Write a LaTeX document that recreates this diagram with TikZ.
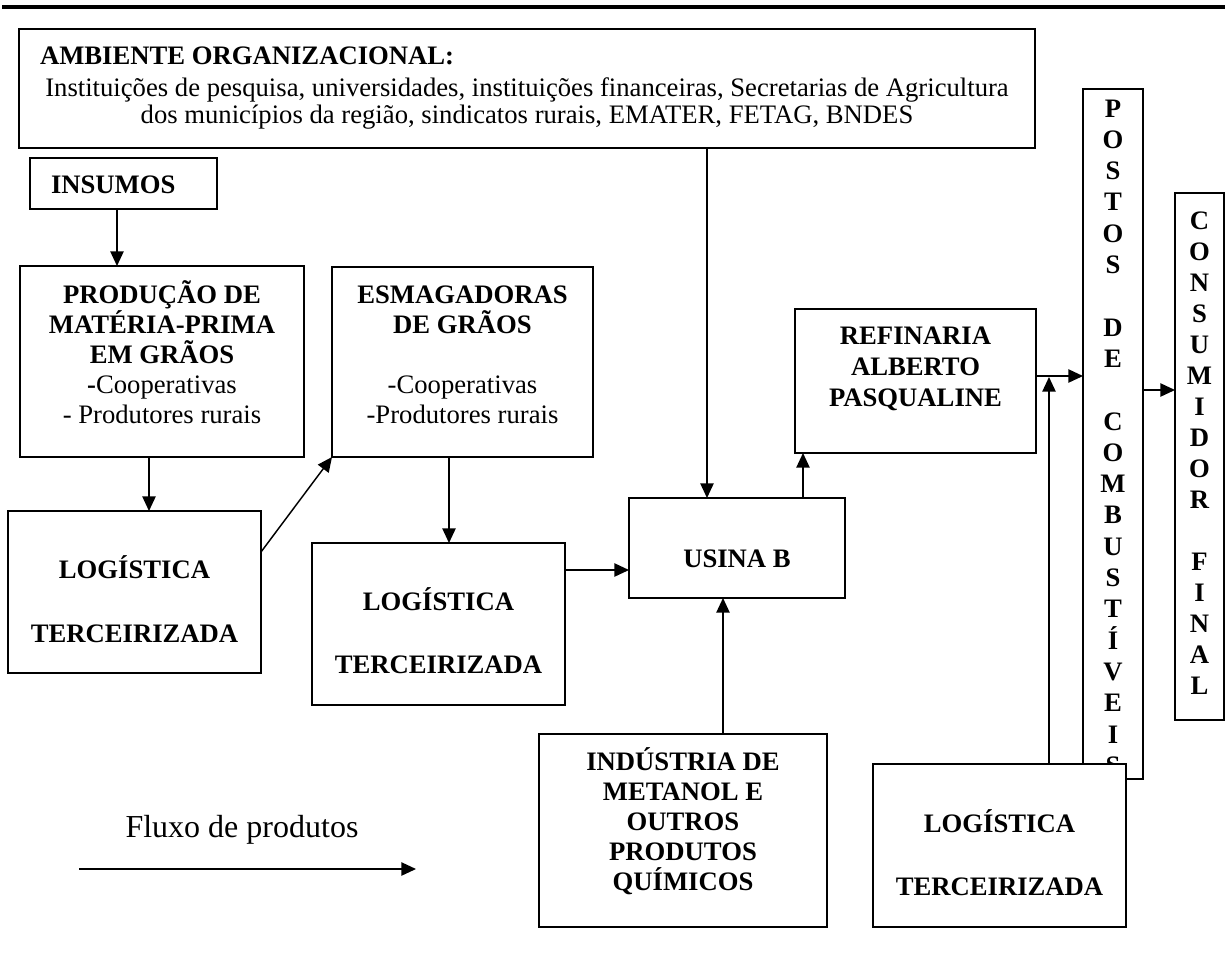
\documentclass[tikz,border=0pt]{standalone}
\usepackage{fontspec}
\setmainfont{Liberation Serif}
\usetikzlibrary{arrows.meta,calc}

% one unit = one pixel of the 1225 x 958 canvas, y grows downwards
\tikzset{
  x=0.75pt, y=-0.75pt,
  blk/.style={draw, line width=1.4pt, fill=white, inner sep=0pt, outer sep=0pt},
  flow/.style={line width=1.1pt, -{Triangle[length=11pt,width=10pt]}},
  txt/.style={inner sep=0pt, outer sep=0pt, font=\fontsize{20}{24}\selectfont},
  bold/.style={txt, font=\fontsize{20}{24}\selectfont\bfseries},
}

% rectangle node given by its top-left and bottom-right corners
\newcommand{\blockat}[5]{%
  \node[blk, anchor=north west,
        minimum width={(#4-#2)*0.75pt}, minimum height={(#5-#3)*0.75pt}]
        (#1) at (#2,#3) {};}

% a stack of centred text lines: name, x, first baseline, line pitch, lines
\newcommand{\textlines}[6][]{%
  \foreach \linetext [count=\idx] in {#6} {%
    \node[txt, anchor=base, #1] (#2-\idx) at ({#3}, {#4+(\idx-1)*#5}) {\linetext};}}

\begin{document}
\begin{tikzpicture}
\useasboundingbox (0,0) rectangle (1225,958);

% header rule
\draw[line width=2.3pt] (2,7) -- (1225,7);

% blocks
\blockat{amb}{19}{29}{1035}{148}
\blockat{ins}{30}{158}{217}{209}
\blockat{prod}{20}{266}{304}{457}
\blockat{esm}{332}{267}{593}{457}
\blockat{logA}{8}{511}{261}{673}
\blockat{logB}{312}{543}{565}{705}
\blockat{usina}{629}{498}{845}{598}
\blockat{ref}{795}{309}{1036}{453}
\blockat{ind}{539}{734}{827}{927}
\blockat{postos}{1083}{89}{1143}{779}
\blockat{cons}{1175}{193}{1224}{720}

% texts
\node[bold, anchor=base west] (amb-title) at (40,64) {AMBIENTE ORGANIZACIONAL:};
\textlines{amb}{527}{96}{27}{{Instituições de pesquisa, universidades, instituições financeiras, Secretarias de Agricultura},{dos municípios da região, sindicatos rurais, EMATER, FETAG, BNDES}}
\node[bold, anchor=base west] (ins-1) at (51,193) {INSUMOS};
\textlines[bold]{prod}{162}{303}{30}{PRODUÇÃO DE,MATÉRIA-PRIMA,EM GRÃOS}
\textlines{prodb}{162}{393}{30}{\textbf{-}Cooperativas,- Produtores rurais}
\textlines[bold]{esm}{462.5}{303}{30}{ESMAGADORAS,DE GRÃOS}
\textlines{esmb}{462.5}{393}{30}{-Cooperativas,-Produtores rurais}
\textlines[bold]{logA}{134.5}{578}{64}{LOGÍSTICA,TERCEIRIZADA}
\textlines[bold]{logB}{438.5}{610}{63}{LOGÍSTICA,TERCEIRIZADA}
\node[bold, anchor=base] (usina-1) at (737,567) {USINA B};
\textlines[bold]{ref}{915.5}{344}{31}{REFINARIA,ALBERTO,PASQUALINE}
\textlines[bold]{ind}{683}{770}{30}{INDÚSTRIA DE,METANOL E,OUTROS,PRODUTOS,QUÍMICOS}
\textlines[bold]{postos}{1113}{117}{31.3}{P,O,S,T,O,S,{},D,E,{},C,O,M,B,U,S,T,Í,V,E,I,S}
\textlines[bold]{cons}{1199.5}{229}{31}{C,O,N,S,U,M,I,D,O,R,{},F,I,N,A,L}

% third-party logistics block sits over the fuel-station column
\blockat{logC}{873}{764}{1126}{927}
\textlines[bold]{logC}{999.5}{832}{63}{LOGÍSTICA,TERCEIRIZADA}

% product flows
\draw[flow] (117,0 |- ins.south) -- (117,0 |- prod.north);
\draw[flow] (149,0 |- prod.south) -- (149,0 |- logA.north);
\draw[flow] (logA.east |- 0,552) -- (esm.south west);
\draw[flow] (449,0 |- esm.south) -- (449,0 |- logB.north);
\draw[flow] (logB.east |- 0,570) -- (usina.west |- 0,570);
\draw[flow] (707,0 |- amb.south) -- (707,0 |- usina.north);
\draw[flow] (723,0 |- ind.north) -- (723,0 |- usina.south);
\draw[flow] (803,0 |- usina.north) -- (803,0 |- ref.south);
\draw[flow] (ref.east |- 0,376) -- (postos.west |- 0,376);
\coordinate (merge) at (1049,377);
\draw[flow] (1049,0 |- logC.north) -- (merge);
\draw[flow] (postos.east |- 0,390) -- (cons.west |- 0,390);

% legend
\node[txt, font=\fontsize{24}{28}\selectfont, anchor=base] (legend) at (242,837) {Fluxo de produtos};
\coordinate (leg-a) at (79,869);
\coordinate (leg-b) at (416,869);
\draw[flow] (leg-a) -- (leg-b);
\end{tikzpicture}
\end{document}
